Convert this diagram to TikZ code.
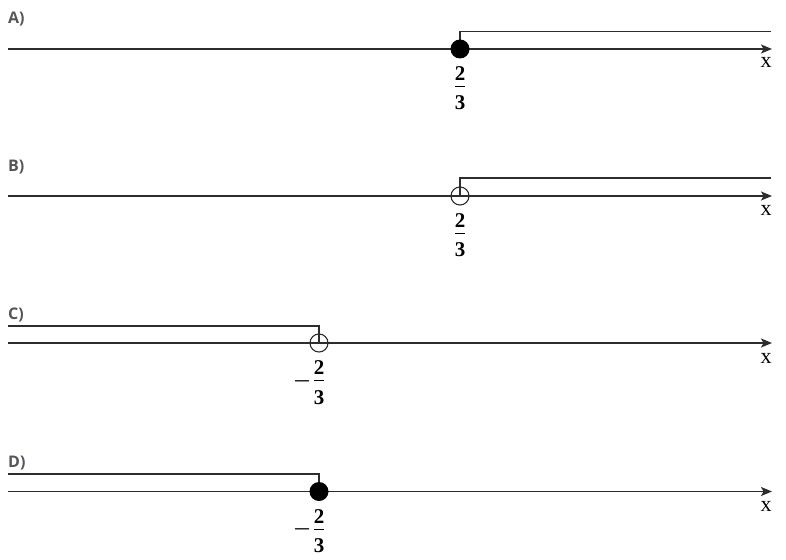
\documentclass[tikz,border=0pt]{standalone}
\usepackage{amsmath}
\usepackage{fontspec}
\setmainfont{Liberation Serif}
\newfontfamily\panelfont{Open Sans}
\usepackage{tikz}
\usetikzlibrary{arrows.meta}
\usepackage{xcolor}
\definecolor{linegray}{RGB}{45, 45, 45}
\definecolor{labelgray}{RGB}{85, 85, 90}
\newcommand{\twothirds}{\dfrac{\raisebox{-3pt}{\textbf{2}}}{\raisebox{-4pt}{\textbf{3}}}}

\begin{document}
\begin{tikzpicture}[
    x=1pt, y=-1pt,
    axis/.style={line width=1.6pt, draw=linegray, -{Stealth[length=11pt, width=9pt, inset=2.5pt]}},
    ray/.style={line width=1.6pt, draw=linegray},
    fullpt/.style={circle, fill=black, minimum size=19pt, inner sep=0pt},
    openpt/.style={circle, draw=linegray, line width=1.1pt, minimum size=18pt, inner sep=0pt},
    fracnum/.style={anchor=base, inner sep=0pt, font=\fontsize{21}{25}\selectfont},
    varname/.style={anchor=base, inner sep=0pt, font=\fontsize{22}{26}\selectfont},
    panel/.style={anchor=base west, inner sep=0pt, text=labelgray,
                  font=\panelfont\bfseries\fontsize{16}{19}\selectfont},
  ]
    \useasboundingbox (0,0) rectangle (786,559);

    % A)
    \node[panel] (labA) at (8,24) {A)};
    \coordinate (a0) at (8,49);
    \coordinate (a1) at (772,49);
    \coordinate (pa) at (460,49);
    \coordinate (ta) at (771,31.5);
    \draw[axis] (a0) -- (a1);
    \draw[ray] (pa) |- (ta);
    \node[fullpt] (dotA) at (pa) {};
    \node[fracnum] (fracA) at (460,91.25) {$\twothirds$};
    \node[varname] (xA) at (766,68) {x};

    % B)
    \node[panel] (labB) at (8,171) {B)};
    \coordinate (b0) at (8,196);
    \coordinate (b1) at (772,196);
    \coordinate (pb) at (460,196);
    \coordinate (tb) at (771,178);
    \draw[axis] (b0) -- (b1);
    \draw[ray] (pb) |- (tb);
    \node[openpt] (dotB) at (pb) {};
    \node[fracnum] (fracB) at (460,238.25) {$\twothirds$};
    \node[varname] (xB) at (766,215) {x};

    % C)
    \node[panel] (labC) at (8,319) {C)};
    \coordinate (c0) at (8,343);
    \coordinate (c1) at (772,343);
    \coordinate (pc) at (319,343);
    \coordinate (tc) at (8,326);
    \draw[axis] (c0) -- (c1);
    \draw[ray] (pc) |- (tc);
    \node[openpt] (dotC) at (pc) {};
    \node[fracnum] (fracC) at (319,386) {$\llap{$\boldsymbol{-}\mkern1mu$}\twothirds$};
    \node[varname] (xC) at (766,363) {x};

    % D)
    \node[panel] (labD) at (8,467) {D)};
    \coordinate (d0) at (8,491.5);
    \coordinate (d1) at (772,491.5);
    \coordinate (pd) at (319,491.5);
    \coordinate (td) at (8,474);
    \draw[axis] (d0) -- (d1);
    \draw[ray] (pd) |- (td);
    \node[fullpt] (dotD) at (pd) {};
    \node[fracnum] (fracD) at (319,534.5) {$\llap{$\boldsymbol{-}\mkern1mu$}\twothirds$};
    \node[varname] (xD) at (766,511) {x};
  \end{tikzpicture}
\end{document}
